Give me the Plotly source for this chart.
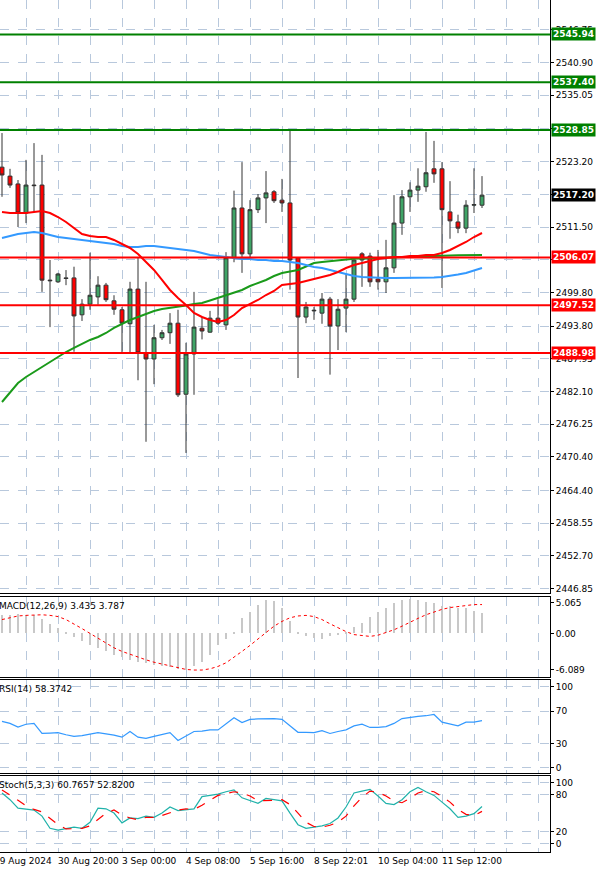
import plotly.graph_objects as go

idx = list(range(61))
opens = [2522.2,2520.6,2519.2,2514.0,2519.0,2519.0,2502.0,2501.7,2502.4,2502.4,2495.8,2497.7,2499.0,2501.1,2498.3,2496.7,2494.2,2500.4,2489.0,2487.9,
         2491.7,2492.6,2494.3,2481.6,2488.8,2493.4,2492.7,2495.2,2494.0,2506.0,2514.9,2506.7,2514.6,2516.7,2517.8,2516.3,2515.8,2506.0,2495.4,2496.5,
         2496.1,2498.6,2493.8,2497.0,2498.6,2506.7,2506.3,2502.2,2501.7,2504.2,2512.2,2516.9,2518.1,2518.7,2521.9,2521.9,2514.2,2512.4,2511.3,2515.4,2515.4]
highs = [2528.3,2521.9,2519.9,2523.5,2526.5,2524.4,2505.6,2503.3,2503.8,2504.4,2498.6,2506.9,2502.7,2501.5,2499.3,2497.2,2501.7,2506.1,2501.7,2494.0,
         2493.1,2496.1,2496.7,2490.8,2499.9,2495.5,2496.5,2498.6,2507.0,2518.0,2523.1,2516.3,2517.4,2521.5,2518.1,2520.1,2528.67,2506.0,2498.1,2497.2,
         2499.7,2499.0,2498.6,2503.1,2506.1,2507.0,2506.9,2507.4,2509.2,2517.2,2518.1,2519.5,2522.0,2528.5,2526.9,2523.1,2519.7,2513.7,2516.3,2522.0,2520.6]
lows = [2516.9,2518.5,2511.5,2512.2,2514.2,2499.9,2493.6,2501.5,2501.1,2489.2,2494.7,2496.7,2497.6,2498.1,2495.8,2489.0,2489.0,2484.1,2473.1,2483.4,
        2491.3,2490.6,2481.1,2471.1,2481.5,2491.4,2492.6,2494.0,2493.1,2505.2,2503.3,2506.1,2514.0,2512.2,2515.8,2514.2,2500.3,2484.5,2494.3,2494.9,
        2494.2,2485.1,2489.5,2492.7,2498.1,2500.8,2500.8,2500.3,2499.7,2503.3,2510.1,2514.2,2516.0,2517.8,2519.4,2500.6,2509.4,2510.4,2510.4,2514.0,2514.9]
closes = [2520.8,2519.0,2514.0,2519.0,2518.9,2502.0,2501.9,2503.1,2502.3,2495.6,2497.7,2499.3,2501.1,2498.5,2496.8,2494.3,2500.4,2489.0,2487.9,2491.7,
          2492.6,2494.3,2481.5,2488.8,2493.6,2492.9,2495.2,2494.3,2506.0,2514.9,2506.7,2514.6,2516.7,2517.6,2516.2,2515.8,2505.6,2495.4,2497.2,2496.6,
          2498.6,2493.8,2496.8,2498.6,2505.6,2505.6,2501.7,2501.7,2504.2,2512.2,2516.9,2518.1,2518.8,2521.2,2521.0,2514.6,2512.6,2511.3,2515.4,2515.5,2517.2]

ma_red = [2514.18,2514.0,2514.0,2514.0,2514.18,2514.36,2514.0,2513.29,2512.40,2511.32,2510.25,2509.89,2509.71,2509.71,2509.18,2508.46,2507.75,2506.68,2505.24,2503.82,
          2502.03,2500.24,2498.81,2497.56,2496.12,2495.41,2494.87,2494.52,2494.87,2495.77,2497.02,2497.73,2498.45,2499.34,2500.06,2501.13,2501.31,2501.49,2501.85,2502.20,
          2502.56,2502.92,2503.46,2504.17,2504.71,2505.07,2505.42,2505.78,2505.96,2506.14,2506.14,2506.32,2506.32,2506.50,2506.50,2506.85,2507.39,2508.11,2508.82,2509.71,2510.43]
ma_blue = [2509.53,2509.89,2510.25,2510.43,2510.61,2510.43,2510.07,2509.71,2509.53,2509.36,2509.18,2509.00,2508.82,2508.64,2508.46,2508.10,2507.92,2507.92,2508.10,2508.10,
           2507.92,2507.75,2507.57,2507.39,2507.21,2506.85,2506.50,2506.32,2506.14,2505.96,2505.78,2505.78,2505.60,2505.60,2505.42,2505.42,2505.24,2505.07,2504.71,2504.35,
           2504.17,2503.82,2503.46,2503.10,2502.74,2502.56,2502.47,2502.39,2502.39,2502.39,2502.39,2502.39,2502.39,2502.39,2502.47,2502.56,2502.74,2503.01,2503.28,2503.73,2504.17]
ma_green = [2480.21,2482.00,2483.61,2484.68,2485.58,2486.47,2487.36,2488.26,2489.15,2489.87,2490.58,2491.30,2491.84,2492.55,2493.45,2494.16,2494.87,2495.41,2495.95,2496.48,
            2496.84,2497.02,2497.20,2497.47,2497.73,2497.91,2498.36,2498.81,2499.25,2499.70,2500.24,2500.95,2501.49,2502.03,2502.74,2503.28,2503.55,2503.82,2504.44,2505.07,
            2505.24,2505.42,2505.60,2505.78,2505.83,2505.87,2505.92,2505.96,2506.03,2506.10,2506.17,2506.24,2506.32,2506.34,2506.36,2506.39,2506.41,2506.43,2506.46,2506.48,2506.50]

macd_hist = [3.0,3.1,3.2,3.1,3.0,2.4,1.6,0.9,0.3,-0.6,-1.3,-1.9,-2.5,-3.0,-3.6,-4.0,-4.5,-4.8,-5.0,-5.2,-5.4,-5.6,-5.9,-6.1,
             -5.5,-4.8,-3.6,-2.0,-1.0,0.2,2.5,3.5,4.8,5.6,5.4,4.2,2.0,0.2,-0.5,-0.8,-1.0,-0.4,-0.2,0.3,1.0,1.8,2.8,3.5,4.2,5.0,
             5.6,5.7,5.5,5.2,5.0,4.6,4.5,4.3,4.2,3.8,3.4]
macd_signal = [2.3,2.6,2.9,3.0,3.1,3.1,3.0,2.8,2.3,1.6,0.8,0.0,-0.8,-1.6,-2.4,-3.0,-3.5,-4.0,-4.4,-4.8,-5.1,-5.4,-5.7,-6.0,-6.1,
               -6.1,-5.9,-5.5,-4.9,-4.0,-3.0,-2.0,-0.9,0.2,1.2,2.0,2.6,2.9,3.0,2.8,2.3,1.6,0.9,0.3,-0.2,-0.4,-0.5,-0.3,0.1,0.6,
               1.2,1.9,2.5,3.1,3.6,4.0,4.3,4.5,4.7,4.8,4.8]
rsi = [57.6,55,50.5,54,55,42.6,43,43.6,41,39,40,41.5,43.6,42,40.5,38,45,38,36.5,39,41,43.6,34,40,45,45.5,47,47,55,62,
       56,60,60.5,61,61,60,52,44,44,43.6,46,42.6,45,47,52,54,50,50,51,55,61,62.5,63.6,64.5,66,56.5,54,52,56.5,56.5,58.4]
stoch_k = [83,72,58,56,55,45,25,22,24,27,25,35,58,57,50,34,42,41,45,43,50,60,54,56,57,77,79,81,85,88,
           75,70,66,74,72,70,50,31,25,27,29,33,42,60,83,86,89,78,66,64,72,85,92,85,79,68,57,43,45,49,60.8]
stoch_d = [88,80,71,62,56,52,42,31,24,24,25,29,39,50,55,47,42,39,43,43,46,51,55,57,56,63,71,79,82,85,
           83,78,70,70,71,72,64,50,35,28,27,30,35,45,62,76,86,84,78,70,67,74,83,87,85,77,68,56,48,46,52.8]

green_levels = [2545.94, 2537.40, 2528.85]
red_levels = [2506.07, 2497.52, 2488.98]
last_price = 2517.20
price_ticks = [2446.85,2452.70,2458.55,2464.40,2470.40,2476.25,2482.10,2487.95,2493.80,2499.80,2505.65,2511.50,
               2517.35,2523.20,2529.05,2535.05,2540.90,2546.75]
date_labels = ["30 Aug 20:00","3 Sep 00:00","4 Sep 08:00","5 Sep 16:00","8 Sep 22:01","10 Sep 04:00","11 Sep 12:00"]
date_pos = [7,15,23,31,39,47,55]
first_label = "29 Aug 2024"
grid_x = list(range(-1, 69, 4))

FONT = "DejaVu Sans"
FS = 9
fig = go.Figure()
fig.add_trace(go.Candlestick(x=idx, open=opens, high=highs, low=lows, close=closes,
    increasing=dict(fillcolor="#3fa466", line=dict(color="#333333", width=1)),
    decreasing=dict(fillcolor="#ff0000", line=dict(color="#333333", width=1)),
    whiskerwidth=0, xaxis="x", yaxis="y", showlegend=False))
fig.add_trace(go.Scatter(x=idx, y=ma_green, mode="lines", line=dict(color="#1a9a1a", width=2), xaxis="x", yaxis="y"))
fig.add_trace(go.Scatter(x=idx, y=ma_blue, mode="lines", line=dict(color="#3399ff", width=2), xaxis="x", yaxis="y"))
fig.add_trace(go.Scatter(x=idx, y=ma_red, mode="lines", line=dict(color="#ff0000", width=2), xaxis="x", yaxis="y"))

fig.add_trace(go.Bar(x=idx, y=macd_hist, marker=dict(color="#c8c8c8", line=dict(width=0)), width=0.25, xaxis="x2", yaxis="y2"))
fig.add_trace(go.Scatter(x=idx, y=macd_signal, mode="lines", line=dict(color="#ff0000", width=1, dash="dot"), xaxis="x2", yaxis="y2"))
fig.add_trace(go.Scatter(x=idx, y=rsi, mode="lines", line=dict(color="#3399ff", width=1.2), xaxis="x3", yaxis="y3"))
fig.add_trace(go.Scatter(x=idx, y=stoch_k, mode="lines", line=dict(color="#20b2aa", width=1.2), xaxis="x4", yaxis="y4"))
fig.add_trace(go.Scatter(x=idx, y=stoch_d, mode="lines", line=dict(color="#ff0000", width=1.2, dash="dash"), xaxis="x4", yaxis="y4"))

for lv in green_levels:
    fig.add_shape(type="line", xref="x domain", yref="y", x0=0, x1=1, y0=lv, y1=lv, line=dict(color="#008000", width=2))
for lv in red_levels:
    fig.add_shape(type="line", xref="x domain", yref="y", x0=0, x1=1, y0=lv, y1=lv, line=dict(color="#ff0000", width=2))

def label(y, text, bg):
    fig.add_annotation(xref="paper", yref="y", x=1.0, y=y, xanchor="left", text=f"<b>{text}</b>", showarrow=False,
                       bgcolor=bg, font=dict(color="white", size=FS, family=FONT), borderpad=1, xshift=1)
for lv in green_levels:
    label(lv, f"{lv:.2f}", "#008000")
for lv in red_levels:
    label(lv, f"{lv:.2f}", "#ff0000")
label(last_price, f"{last_price:.2f}", "#000000")

doms = {"y": [0.304, 1.0], "y2": [0.2054, 0.2993], "y3": [0.0927, 0.2019], "y4": [0.0, 0.0892]}
grid = dict(showgrid=True, gridcolor="#b8c8dc", griddash="dash", gridwidth=1)
xcommon = dict(range=[-0.25, 68.5], tickvals=grid_x, showticklabels=False, ticks="", zeroline=False,
               showline=True, linecolor="black", mirror=True, linewidth=1, rangeslider=dict(visible=False), **grid)
ycommon = dict(side="right", ticks="outside", ticklen=3, tickcolor="black", zeroline=False,
               showline=True, linecolor="black", mirror=True, linewidth=1,
               tickfont=dict(size=FS, family=FONT, color="black"), **grid)

fig.update_layout(
    width=600, height=869, margin=dict(l=0, r=50, t=0, b=17), paper_bgcolor="white", plot_bgcolor="white",
    showlegend=False, bargap=0,
    xaxis=dict(anchor="y", **xcommon),
    xaxis2=dict(anchor="y2", matches="x", **xcommon),
    xaxis3=dict(anchor="y3", matches="x", **xcommon),
    xaxis4=dict(anchor="y4", matches="x", **xcommon),
    yaxis=dict(domain=doms["y"], anchor="x", range=[2446.06, 2552.09], tickvals=price_ticks,
               ticktext=[f"{v:.2f}" for v in price_ticks], **ycommon),
    yaxis2=dict(domain=doms["y2"], anchor="x2", range=[-7.26, 6.06], tickvals=[5.065, 0, -6.089],
                ticktext=["5.065", "0.00", "-6.089"], **ycommon),
    yaxis3=dict(domain=doms["y3"], anchor="x3", range=[-6.2, 108.6], tickvals=[0, 30, 70, 100], **ycommon),
    yaxis4=dict(domain=doms["y4"], anchor="x4", range=[-13.8, 110.8], tickvals=[0, 20, 80, 100], **ycommon),
)
fig.layout.yaxis2.showgrid = False

for txt, yd in [("MACD(12,26,9) 3.435 3.787", doms["y2"][1]), ("RSI(14) 58.3742", doms["y3"][1]),
                ("Stoch(5,3,3) 60.7657 52.8200", doms["y4"][1])]:
    fig.add_annotation(xref="paper", yref="paper", x=0, y=yd, xanchor="left", yanchor="top", text=txt,
                       showarrow=False, font=dict(size=FS, family=FONT, color="black"), xshift=-3, yshift=-2)

fig.add_annotation(xref="paper", yref="paper", x=0, y=0, xanchor="left", yanchor="top", text=first_label,
                   showarrow=False, font=dict(size=FS, family=FONT, color="black"), xshift=-8, yshift=-2)
for p, t in zip(date_pos, date_labels):
    fig.add_annotation(xref="x4", yref="paper", x=p, y=0, xanchor="left", yanchor="top", text=t,
                       showarrow=False, font=dict(size=FS, family=FONT, color="black"), xshift=-2, yshift=-2)

fig.write_html("out.html", config={"displayModeBar": False},
               post_script="document.body.style.margin='0';document.body.style.overflow='hidden';")
